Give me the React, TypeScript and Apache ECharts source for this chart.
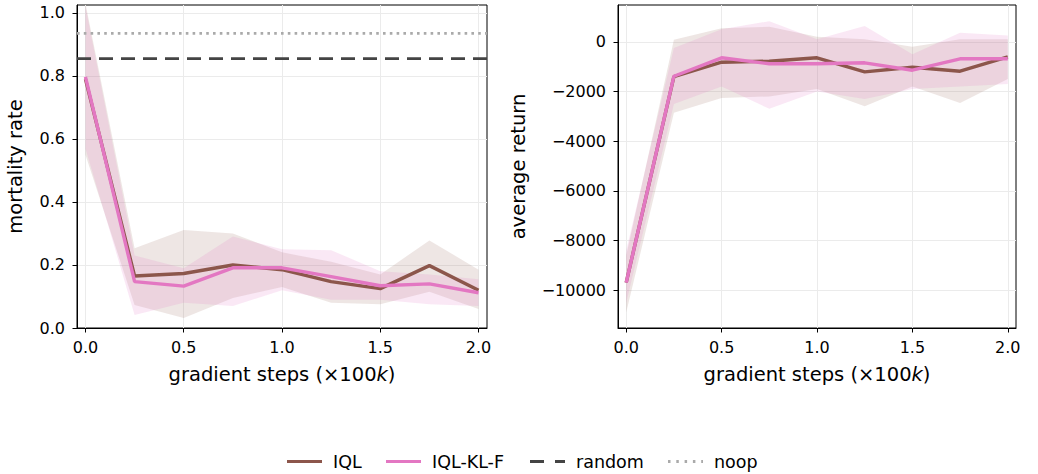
import React, { useEffect, useRef } from "react";
import * as echarts from "echarts";

const steps = [0, 0.25, 0.5, 0.75, 1.0, 1.25, 1.5, 1.75, 2.0];
const xTicks = [0, 0.5, 1.0, 1.5, 2.0];

const mortIQL = [0.79, 0.165, 0.173, 0.2, 0.185, 0.147, 0.125, 0.198, 0.12];
const mortIQLLo = [0.55, 0.073, 0.032, 0.095, 0.13, 0.08, 0.075, 0.115, 0.06];
const mortIQLHi = [1.03, 0.253, 0.311, 0.3, 0.24, 0.21, 0.17, 0.278, 0.185];
const mortKL = [0.797, 0.147, 0.133, 0.191, 0.191, 0.163, 0.134, 0.14, 0.112];
const mortKLLo = [0.57, 0.041, 0.08, 0.07, 0.12, 0.09, 0.09, 0.075, 0.07];
const mortKLHi = [1.02, 0.23, 0.19, 0.29, 0.25, 0.247, 0.18, 0.17, 0.155];
const randomMort = 0.855;
const noopMort = 0.935;
const mortTicks = [0, 0.2, 0.4, 0.6, 0.8, 1.0];

const retIQL = [-9690, -1400, -822, -782, -645, -1210, -1024, -1185, -605];
const retIQLLo = [-10900, -2860, -2260, -2200, -1900, -2600, -1800, -2460, -1500];
const retIQLHi = [-8600, 80, 540, 600, 200, 100, -200, 100, 100];
const retKL = [-9690, -1387, -645, -887, -887, -847, -1145, -685, -685];
const retKLLo = [-10500, -2500, -1800, -2700, -2000, -2300, -1900, -1800, -1700];
const retKLHi = [-8400, -250, 500, 830, 100, 630, -500, 360, 250];
const retTicks = [-10000, -8000, -6000, -4000, -2000, 0];

const legendNames = ["IQL", "IQL-KL-F", "random", "noop"];

const X_MIN = -0.043;
const X_MAX = 2.043;
const BROWN = "#8c564b";
const PINK = "#e377c2";
const RANDOM_C = "#444444";
const NOOP_C = "#aaaaaa";
const FONT = "DejaVu Sans";

function band(idx: number, xs: number[], lo: number[], hi: number[], color: string) {
  return {
    type: "custom",
    xAxisIndex: idx,
    yAxisIndex: idx,
    silent: true,
    clip: true,
    z: 1,
    data: xs.map((x, i) => [x, lo[i], hi[i]]),
    encode: { x: 0, y: [1, 2] },
    renderItem: (params: any, api: any) => {
      if (params.dataIndex !== 0) return null;
      const upper = xs.map((x, i) => api.coord([x, hi[i]]));
      const lower = xs.map((x, i) => api.coord([x, lo[i]])).reverse();
      return {
        type: "polygon",
        shape: { points: upper.concat(lower) },
        style: { fill: color, stroke: null },
      };
    },
  };
}

function line(idx: number, name: string, xs: number[], ys: number[], color: string) {
  return {
    type: "line",
    name,
    xAxisIndex: idx,
    yAxisIndex: idx,
    data: xs.map((x, i) => [x, ys[i]]),
    symbol: "none",
    lineStyle: { color, width: 3.4 },
    itemStyle: { color },
    z: 3,
  };
}

function xAxis(idx: number) {
  return {
    type: "value",
    gridIndex: idx,
    min: X_MIN,
    max: X_MAX,
    name: "gradient steps (×100{i|k})",
    nameLocation: "middle",
    nameGap: 36,
    nameTextStyle: {
      fontSize: 19.5,
      fontFamily: FONT,
      color: "#000",
      rich: { i: { fontSize: 19.5, fontFamily: FONT, fontStyle: "italic", color: "#000" } },
    },
    axisLine: { show: true, onZero: false, lineStyle: { color: "#000", width: 1 } },
    axisTick: { show: true, length: 4.5, lineStyle: { color: "#000", width: 1 }, customValues: xTicks },
    axisLabel: {
      fontSize: 16,
      fontFamily: FONT,
      color: "#000",
      margin: 11,
      customValues: xTicks,
      formatter: (v: number) => v.toFixed(1),
    },
    splitLine: { show: true, lineStyle: { color: "#ebebeb", width: 1 } },
  };
}

// legend layout (pixel positions of the hand-drawn legend)
const legendStyles = [
  { color: BROWN, dash: null as any, x: 287, tx: 333 },
  { color: PINK, dash: null as any, x: 386, tx: 432 },
  { color: RANDOM_C, dash: [14, 11], x: 530, tx: 576 },
  { color: NOOP_C, dash: [2.5, 5.8], x: 668, tx: 714 },
];
const LEGEND_Y = 461.5;

function legendGraphics() {
  const out: any[] = [];
  legendNames.forEach((name, i) => {
    const s = legendStyles[i];
    out.push({
      type: "line",
      shape: { x1: s.x, y1: LEGEND_Y, x2: s.x + 35, y2: LEGEND_Y },
      style: { stroke: s.color, lineWidth: 3.2, lineDash: s.dash || undefined },
    });
    out.push({
      type: "text",
      x: s.tx,
      y: LEGEND_Y,
      style: {
        text: name,
        fontSize: 17.5,
        fontFamily: FONT,
        fill: "#000",
        verticalAlign: "middle",
        align: "left",
      },
    });
  });
  return out;
}

export default function App() {
  const ref = useRef<HTMLDivElement>(null);
  useEffect(() => {
    if (!ref.current) return;
    const chart = echarts.init(ref.current, undefined, { renderer: "svg" });
    const option: any = {
      animation: false,
      backgroundColor: "#fff",
      grid: [
        { left: 77, top: 5, width: 410, height: 323, show: true, borderColor: "#000", borderWidth: 1, backgroundColor: "transparent" },
        { left: 618, top: 5, width: 398, height: 323, show: true, borderColor: "#000", borderWidth: 1, backgroundColor: "transparent" },
      ],
      xAxis: [xAxis(0), xAxis(1)],
      yAxis: [
        {
          type: "value",
          gridIndex: 0,
          min: 0,
          max: 1.025,
          name: "mortality rate",
          nameLocation: "middle",
          nameGap: 52,
          nameTextStyle: { fontSize: 19.5, fontFamily: FONT, color: "#000" },
          axisLine: { show: true, onZero: false, lineStyle: { color: "#000", width: 1 } },
          axisTick: { show: true, length: 4.5, lineStyle: { color: "#000", width: 1 }, customValues: mortTicks },
          axisLabel: {
            fontSize: 16,
            fontFamily: FONT,
            color: "#000",
            margin: 12,
            customValues: mortTicks,
            formatter: (v: number) => v.toFixed(1),
          },
          splitLine: { show: true, lineStyle: { color: "#ebebeb", width: 1 } },
        },
        {
          type: "value",
          gridIndex: 1,
          min: -11520,
          max: 1480,
          name: "average return",
          nameLocation: "middle",
          nameGap: 90,
          nameTextStyle: { fontSize: 19.5, fontFamily: FONT, color: "#000" },
          axisLine: { show: true, onZero: false, lineStyle: { color: "#000", width: 1 } },
          axisTick: { show: true, length: 4.5, lineStyle: { color: "#000", width: 1 }, customValues: retTicks },
          axisLabel: {
            fontSize: 16,
            fontFamily: FONT,
            color: "#000",
            margin: 12,
            customValues: retTicks,
            formatter: (v: number) => (v < 0 ? "\u2212" + Math.abs(v) : String(v)),
          },
          splitLine: { show: true, lineStyle: { color: "#ebebeb", width: 1 } },
        },
      ],
      graphic: legendGraphics(),
      series: [
        band(0, steps, mortIQLLo, mortIQLHi, "rgba(140,86,75,0.15)"),
        band(0, steps, mortKLLo, mortKLHi, "rgba(227,119,194,0.17)"),
        band(1, steps, retIQLLo, retIQLHi, "rgba(140,86,75,0.15)"),
        band(1, steps, retKLLo, retKLHi, "rgba(227,119,194,0.17)"),
        {
          type: "line",
          name: "random",
          xAxisIndex: 0,
          yAxisIndex: 0,
          data: [[X_MIN, randomMort], [X_MAX, randomMort]],
          symbol: "none",
          lineStyle: { color: RANDOM_C, width: 2.8, type: [14, 8] },
          itemStyle: { color: RANDOM_C },
          z: 2,
        },
        {
          type: "line",
          name: "noop",
          xAxisIndex: 0,
          yAxisIndex: 0,
          data: [[X_MIN, noopMort], [X_MAX, noopMort]],
          symbol: "none",
          lineStyle: { color: NOOP_C, width: 2.6, type: [2.6, 4.2] },
          itemStyle: { color: NOOP_C },
          z: 2,
        },
        line(0, "IQL", steps, mortIQL, BROWN),
        line(0, "IQL-KL-F", steps, mortKL, PINK),
        line(1, "IQL", steps, retIQL, BROWN),
        line(1, "IQL-KL-F", steps, retKL, PINK),
      ],
    };
    chart.setOption(option);
    return () => chart.dispose();
  }, []);
  return (
    <div
      ref={ref}
      style={{ position: "absolute", left: 0, top: 0, width: 1038, height: 474 }}
    />
  );
}
